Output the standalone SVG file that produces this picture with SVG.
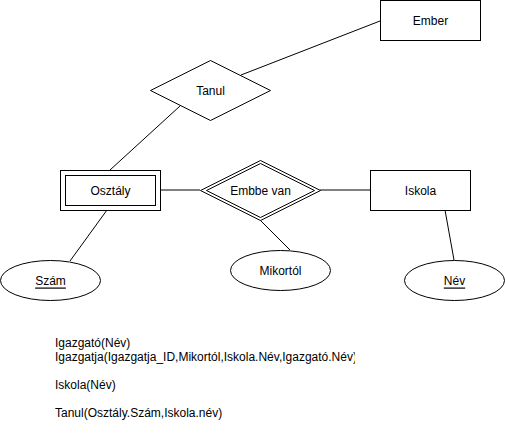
<svg xmlns="http://www.w3.org/2000/svg" width="505" height="434" viewBox="0 0 505 434">
<style>
.s{fill:#fff;stroke:#000;stroke-width:1}
.l{fill:none;stroke:#000;stroke-width:1}
text{font-family:"Liberation Sans",Arial,sans-serif;font-size:12px;fill:#000}
.c{text-anchor:middle;dominant-baseline:central}
.u{text-decoration:underline}
</style>
<defs>
<clipPath id="tc"><rect x="50" y="330" width="305" height="100"/></clipPath>
</defs>
<rect width="505" height="434" fill="#fff"/>
<g id="connectors">
<line class="l" x1="380" y1="21" x2="241" y2="75"/>
<line class="l" x1="180" y1="106" x2="110" y2="170"/>
<line class="l" x1="160" y1="190" x2="200" y2="190"/>
<line class="l" x1="320" y1="190" x2="370" y2="190"/>
<line class="l" x1="107" y1="210" x2="70" y2="261"/>
<line class="l" x1="260" y1="220" x2="290" y2="250"/>
<line class="l" x1="445" y1="210" x2="454" y2="260"/>
</g>
<g id="ember">
<rect class="s" x="380.5" y="0.5" width="100" height="40"/>
<text class="c" x="430.5" y="20.5">Ember</text>
</g>
<g id="tanul">
<polygon class="s" points="150.5,90.5 210.5,60.5 270.5,90.5 210.5,120.5"/>
<text class="c" x="210.5" y="90.5">Tanul</text>
</g>
<g id="osztaly">
<rect class="s" x="60.5" y="170.5" width="100" height="40"/>
<rect class="s" x="65.5" y="175.5" width="90" height="30"/>
<text class="c" x="110.5" y="190.5">Osztály</text>
</g>
<g id="embbe-van">
<polygon class="s" points="200.5,190.5 260.5,160.5 320.5,190.5 260.5,220.5"/>
<polygon class="s" points="206.5,190.5 260.5,163.5 314.5,190.5 260.5,217.5"/>
<text class="c" x="260.5" y="190.5">Embbe van</text>
</g>
<g id="iskola">
<rect class="s" x="370.5" y="170.5" width="100" height="40"/>
<text class="c" x="420.5" y="190.5">Iskola</text>
</g>
<g id="szam">
<ellipse class="s" cx="50.5" cy="280.5" rx="50" ry="20"/>
<text class="c u" x="50.5" y="280.5">Szám</text>
</g>
<g id="mikortol">
<ellipse class="s" cx="280.5" cy="270.5" rx="50" ry="20"/>
<text class="c" x="280.5" y="270.5">Mikortól</text>
</g>
<g id="nev">
<ellipse class="s" cx="454.5" cy="280.5" rx="50" ry="20"/>
<text class="c u" x="454.5" y="280.5">Név</text>
</g>
<g id="notes" clip-path="url(#tc)">
<text x="55" y="347">Igazgató(Név)</text>
<text x="55" y="361">Igazgatja(Igazgatja_ID,Mikortól,Iskola.Név,Igazgató.Név)</text>
<text x="55" y="389">Iskola(Név)</text>
<text x="55" y="417">Tanul(Osztály.Szám,Iskola.név)</text>
</g>
</svg>
